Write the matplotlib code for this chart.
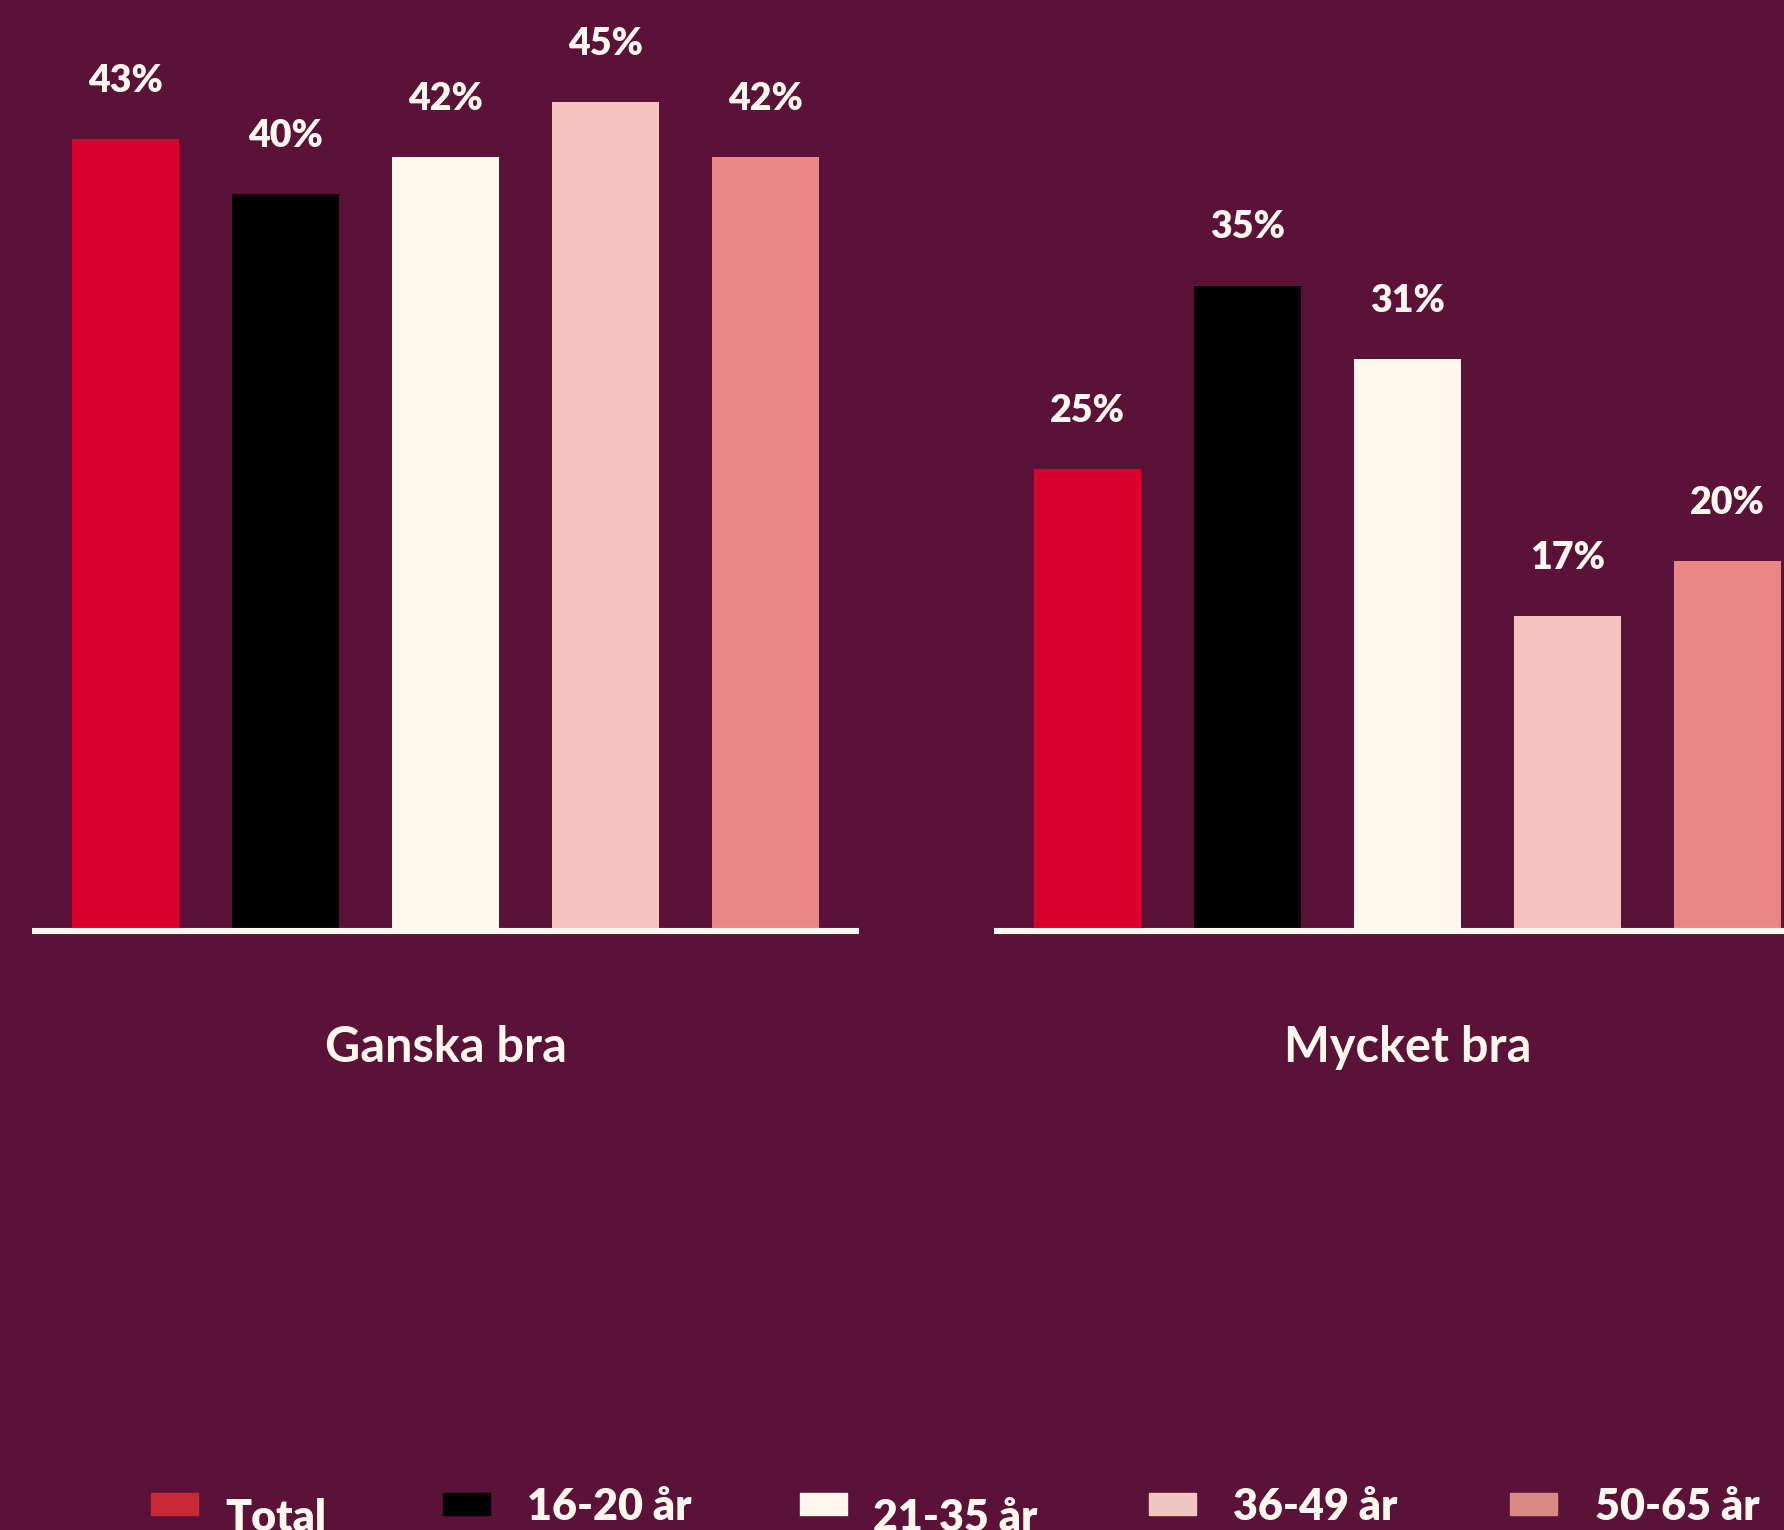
import matplotlib
matplotlib.use('Agg')
import matplotlib.pyplot as plt
from matplotlib.patches import Rectangle

# Data
categories = ['Ganska bra', 'Mycket bra']
groups = ['Total', '16-20 år', '21-35 år', '36-49 år', '50-65 år']
ganska_bra = [43, 40, 42, 45, 42]
mycket_bra = [25, 35, 31, 17, 20]

# Style
bg = '#5B1138'
cream = '#FFF8EC'
bar_colors = ['#D9002E', '#000000', '#FFF8EC', '#F7C3BF', '#E98784']
legend_colors = ['#C82A36', '#000000', '#FFF8EC', '#F0C6C3', '#D98A85']

plt.rcParams['font.family'] = ['Lato', 'DejaVu Sans']

W, H = 1784, 1530
fig = plt.figure(figsize=(W / 100, H / 100), dpi=100, facecolor=bg)

base_px = 928
ax_h = base_px / H
ax_w = 827 / W
lefts = [32 / W, 994 / W]


def draw_panel(ax, values, title):
    ax.set_facecolor(bg)
    x = list(range(len(values)))
    ax.bar(x, values, width=0.669, color=bar_colors, zorder=2)
    ax.set_xlim(-0.584, 4.585)
    ax.set_ylim(0, 50.57)
    # baseline sits just under the bars
    ax.plot([0, 1], [-0.0035, -0.0035], transform=ax.transAxes, color=cream,
            lw=4.4, solid_capstyle='butt', clip_on=False, zorder=3)
    for xi, v in zip(x, values):
        ax.annotate(f'{v}%', (xi, v), xytext=(0, 34), textcoords='offset points',
                    ha='center', va='baseline', color=cream, fontsize=27,
                    fontweight='heavy')
    ax.text(0.5, -0.144, title, transform=ax.transAxes, ha='center', va='baseline',
            color=cream, fontsize=35, fontweight='bold')
    for s in ax.spines.values():
        s.set_visible(False)
    ax.set_xticks([])
    ax.set_yticks([])


for left, vals, cat in zip(lefts, [ganska_bra, mycket_bra], categories):
    ax = fig.add_axes([left, 1 - ax_h, ax_w, ax_h])
    draw_panel(ax, vals, cat)

# Legend (drawn by hand, the original has uneven text baselines)
swatch_x = [151, 443, 800, 1149, 1510]
text_x = [225, 527, 873, 1233, 1595]
text_base = [1531, 1520, 1531, 1520, 1520]
for name, col, sx, tx, tb in zip(groups, legend_colors, swatch_x, text_x, text_base):
    fig.add_artist(Rectangle((sx / W, 1 - 1515 / H), 47 / W, 22 / H,
                             transform=fig.transFigure, color=col))
    fig.text(tx / W, 1 - tb / H, name, ha='left', va='baseline', color=cream,
             fontsize=31, fontweight='heavy')

fig.savefig('out.png', dpi=100, facecolor=bg)
